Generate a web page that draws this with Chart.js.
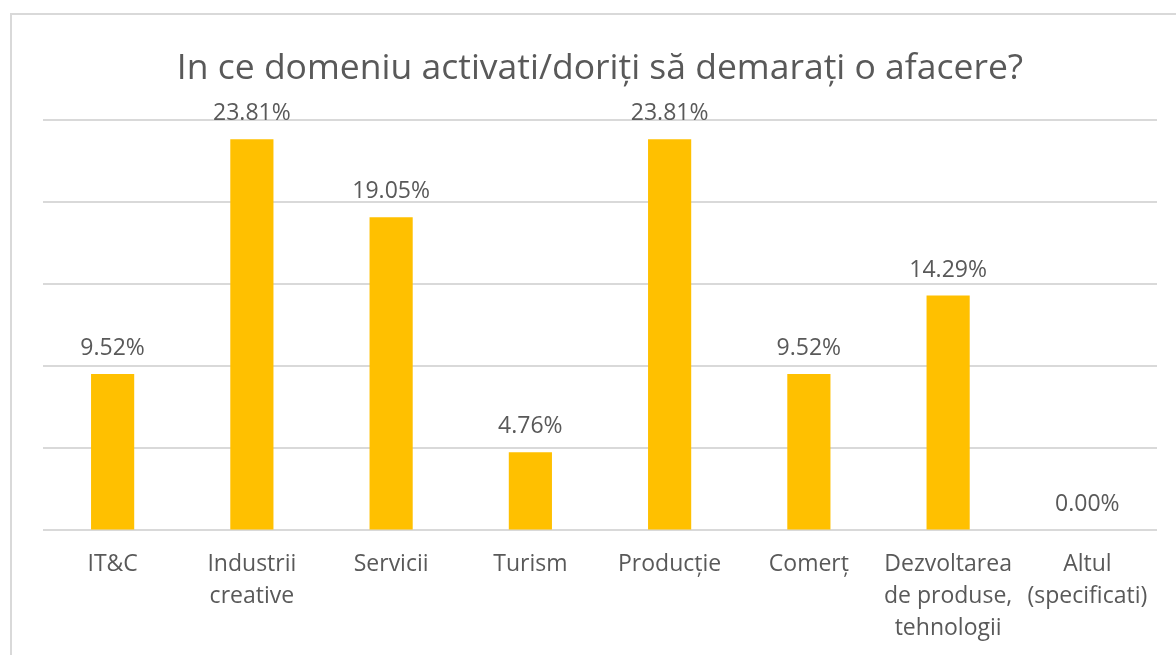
<!DOCTYPE html>
<html>
<head>
<meta charset="utf-8">
<script src="https://cdn.jsdelivr.net/npm/chart.js@4"></script>
<style>
  html, body { margin: 0; padding: 0; background: #fff; overflow: hidden; }
  #frame { position: absolute; left: 10px; top: 13px; width: 1300px; height: 800px; border: 2px solid #d9d9d9; }
  #wrap { position: absolute; left: 0; top: 0; width: 1176px; height: 655px; }
</style>
</head>
<body>
<div id="frame"></div>
<div id="wrap"><canvas id="barChart"></canvas></div>
<script>
const categories = [
    "IT&C",
    ["Industrii", "creative"],
    "Servicii",
    "Turism",
    "Producție",
    "Comerț",
    ["Dezvoltarea", "de produse,", "tehnologii"],
    ["Altul", "(specificati)"]
];
const percentValues = [9.52, 23.81, 19.05, 4.76, 23.81, 9.52, 14.29, 0.00];
const chartTitle = "In ce domeniu activati/doriți să demarați o afacere?";

const textColor = "#595959";
const fontFamily = "'Open Sans', 'Noto Sans', sans-serif";

// draws "xx.xx%" above each bar
const valueLabels = {
    id: "valueLabels",
    afterDatasetsDraw(chart) {
        const ctx = chart.ctx;
        const meta = chart.getDatasetMeta(0);
        ctx.save();
        ctx.font = "23px " + fontFamily;
        ctx.fillStyle = textColor;
        ctx.textAlign = "center";
        ctx.textBaseline = "alphabetic";
        meta.data.forEach((bar, i) => {
            ctx.fillText(percentValues[i].toFixed(2) + "%", bar.x, bar.y - 19);
        });
        ctx.restore();
    }
};

const ctx = document.getElementById("barChart").getContext("2d");
const barChart = new Chart(ctx, {
    type: "bar",
    data: {
        labels: categories,
        datasets: [{
            data: percentValues,
            backgroundColor: "#ffc000",
            barPercentage: 0.31,
            categoryPercentage: 1.0
        }]
    },
    options: {
        responsive: true,
        maintainAspectRatio: false,
        animation: false,
        layout: { padding: { left: 43, right: 19, top: 48, bottom: 0 } },
        plugins: {
            legend: { display: false },
            tooltip: { enabled: false },
            title: {
                display: true,
                text: chartTitle,
                color: textColor,
                font: { family: fontFamily, size: 35.5, weight: "normal" },
                padding: { top: 0, bottom: 29 }
            }
        },
        scales: {
            x: {
                grid: { display: false },
                border: { display: false },
                ticks: {
                    color: textColor,
                    font: { family: fontFamily, size: 23, lineHeight: 1.4 },
                    maxRotation: 0,
                    autoSkip: false,
                    padding: 10
                }
            },
            y: {
                min: 0,
                max: 25,
                ticks: { display: false, stepSize: 5 },
                border: { display: false },
                grid: { color: "#d9d9d9", lineWidth: 2, drawTicks: false },
                afterFit(axis) { axis.width = 0; }
            }
        }
    },
    plugins: [valueLabels]
});
</script>
</body>
</html>
